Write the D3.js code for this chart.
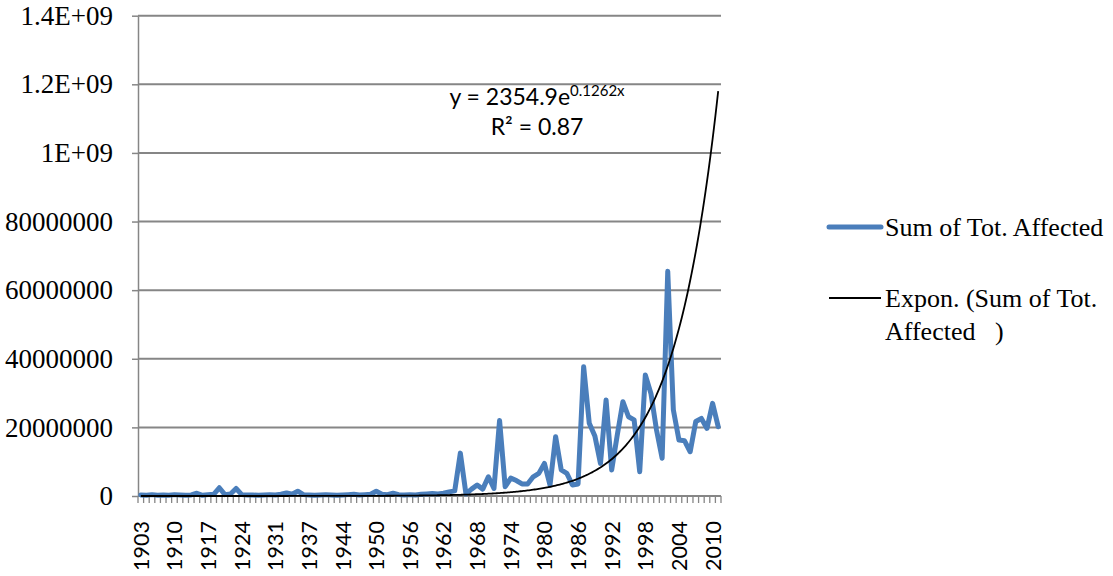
<!DOCTYPE html>
<html>
<head>
<meta charset="utf-8">
<script src="https://cdn.jsdelivr.net/npm/d3@7"></script>
<style>
  body { margin: 0; background: #fff; }
  svg { display: block; }
</style>
</head>
<body>
<div id="chart"></div>
<script>
// categories (years present in the pivot table, a few early years have no rows)
var years = [1903, 1904, 1905, 1907, 1908, 1909, 1910, 1911, 1912, 1914, 1915, 1916,
  1917, 1918, 1919, 1921, 1922, 1923, 1924, 1925, 1926, 1928, 1929, 1930,
  1931, 1932, 1933, 1934, 1935, 1936, 1937, 1938, 1939, 1941, 1942, 1943,
  1944, 1945, 1946, 1947, 1948, 1949, 1950, 1951, 1952, 1953, 1954, 1955,
  1956, 1957, 1958, 1959, 1960, 1961, 1962, 1963, 1964, 1965, 1966, 1967,
  1968, 1969, 1970, 1971, 1972, 1973, 1974, 1975, 1976, 1977, 1978, 1979,
  1980, 1981, 1982, 1983, 1984, 1985, 1986, 1987, 1988, 1989, 1990, 1991,
  1992, 1993, 1994, 1995, 1996, 1997, 1998, 1999, 2000, 2001, 2002, 2003,
  2004, 2005, 2006, 2007, 2008, 2009, 2010, 2011];

// Sum of Tot. Affected, in millions
var affected = [3, 2, 4, 2, 3, 2, 4, 3, 2, 3, 8, 2,
  4, 5, 24, 4, 6, 22, 4, 3, 3, 2, 3, 4,
  3, 5, 9, 5, 14, 4, 3, 2, 3, 4, 3, 2,
  3, 4, 5, 3, 4, 5, 14, 5, 4, 8, 4, 3,
  4, 3, 5, 6, 7, 6, 8, 12, 15, 125, 6, 20,
  32, 20, 56, 22, 220, 27, 52, 45, 35, 35, 56, 66,
  95, 32, 173, 76, 66, 32, 35, 377, 212, 175, 95, 280,
  76, 178, 275, 231, 222, 71, 353, 299, 192, 110, 655, 251,
  163, 161, 129, 217, 226, 197, 270, 202];

var yTicks = [0, 200e6, 400e6, 600e6, 800e6, 1000e6, 1200e6, 1400e6];
var yTickLabels = ["0", "20000000", "40000000", "60000000", "80000000", "1E+09", "1.2E+09", "1.4E+09"];

// exponential trendline as shown on the chart
var trendA = 2354.9;
var trendB = 0.1262;
var trendR2 = "0.87";

var W = 1113, H = 576;
var plotL = 138, plotR = 721, plotT = 15.7, plotB = 496;
var blue = "#4a7ebb";
var grid = "#868686";
var serif = "'Liberation Serif', 'Times New Roman', serif";
var sans = "Lato, 'Open Sans', sans-serif";

var svg = d3.select("#chart")
  .append("svg")
  .attr("width", W)
  .attr("height", H);

svg.append("rect").attr("width", W).attr("height", H).attr("fill", "#fff");

var x = d3.scaleBand().domain(years).range([plotL, plotR]).padding(0);
var mid = function(yr) { return x(yr) + x.bandwidth() / 2; };
var y = d3.scaleLinear().domain([0, 1400e6]).range([plotB, plotT]);

// gridlines
svg.append("g")
  .selectAll("line")
  .data(yTicks.slice(1))
  .enter()
  .append("line")
  .attr("x1", plotL)
  .attr("x2", plotR)
  .attr("y1", function(d) { return y(d); })
  .attr("y2", function(d) { return y(d); })
  .attr("stroke", grid)
  .attr("stroke-width", 2);

// y axis
var yAxis = svg.append("g")
  .attr("transform", "translate(" + plotL + ",0)")
  .call(d3.axisLeft(y)
    .tickValues(yTicks)
    .tickSize(6)
    .tickSizeOuter(0)
    .tickFormat(function(d, i) { return yTickLabels[i]; }));
yAxis.select(".domain").attr("stroke", grid).attr("stroke-width", 1.5);
yAxis.selectAll(".tick line").attr("stroke", grid).attr("stroke-width", 1.5);
yAxis.selectAll(".tick text")
  .attr("x", -25)
  .attr("font-family", serif)
  .attr("font-size", 27)
  .attr("fill", "#000");

// x axis: tick marks sit between categories
var tickPos = years.map(function(yr) { return x(yr); }).concat([plotR]);
svg.append("g")
  .selectAll("line")
  .data(tickPos)
  .enter()
  .append("line")
  .attr("x1", function(d) { return d; })
  .attr("x2", function(d) { return d; })
  .attr("y1", plotB)
  .attr("y2", plotB + 7)
  .attr("stroke", grid)
  .attr("stroke-width", 1.3);

svg.append("line")
  .attr("x1", plotL).attr("x2", plotR)
  .attr("y1", plotB).attr("y2", plotB)
  .attr("stroke", grid).attr("stroke-width", 2);

var labelYears = years.filter(function(yr, i) { return i % 6 == 0; });
svg.append("g")
  .selectAll("text")
  .data(labelYears)
  .enter()
  .append("text")
  .attr("transform", function(d) { return "translate(" + mid(d) + ",521) rotate(-90)"; })
  .attr("dy", "0.37em")
  .attr("text-anchor", "end")
  .attr("font-family", sans)
  .attr("font-size", 21.5)
  .attr("fill", "#000")
  .text(function(d) { return d; });

// data line
var line = d3.line()
  .x(function(d, i) { return mid(years[i]); })
  .y(function(d) { return y(d * 1e6); });

svg.append("path")
  .datum(affected)
  .attr("d", line)
  .attr("fill", "none")
  .attr("stroke", blue)
  .attr("stroke-width", 5)
  .attr("stroke-linejoin", "round")
  .attr("stroke-linecap", "round");

// trendline, x = 1..n in Excel's category numbering
var xi = d3.scaleLinear().domain([1, years.length]).range([mid(years[0]), mid(years[years.length - 1])]);
var trendPts = d3.range(1, years.length + 0.01, 0.25);
svg.append("path")
  .datum(trendPts)
  .attr("d", d3.line()
    .x(function(t) { return xi(t); })
    .y(function(t) { return y(trendA * Math.exp(trendB * t)); }))
  .attr("fill", "none")
  .attr("stroke", "#000")
  .attr("stroke-width", 1.8);

// equation label
var eq = svg.append("text")
  .attr("x", 537)
  .attr("y", 105)
  .attr("text-anchor", "middle")
  .attr("font-family", sans)
  .attr("font-size", 23)
  .attr("fill", "#000");
eq.append("tspan").text("y = " + trendA + "e");
eq.append("tspan").attr("dy", -9).attr("font-size", 15).text(trendB + "x");

svg.append("text")
  .attr("x", 537)
  .attr("y", 135)
  .attr("text-anchor", "middle")
  .attr("font-family", sans)
  .attr("font-size", 23)
  .attr("fill", "#000")
  .text("R\u00b2 = " + trendR2);

// legend
var leg = svg.append("g");
leg.append("line")
  .attr("x1", 829).attr("x2", 881)
  .attr("y1", 227).attr("y2", 227)
  .attr("stroke", blue).attr("stroke-width", 5)
  .attr("stroke-linecap", "round");
leg.append("text")
  .attr("x", 885).attr("y", 227).attr("dy", "0.35em")
  .attr("font-family", serif).attr("font-size", 26)
  .text("Sum of Tot. Affected");

leg.append("line")
  .attr("x1", 829).attr("x2", 881)
  .attr("y1", 298).attr("y2", 298)
  .attr("stroke", "#000").attr("stroke-width", 1.8);
leg.append("text")
  .attr("x", 885).attr("y", 298).attr("dy", "0.35em")
  .attr("font-family", serif).attr("font-size", 26)
  .text("Expon. (Sum of Tot.");
leg.append("text")
  .attr("x", 885).attr("y", 331).attr("dy", "0.35em")
  .attr("font-family", serif).attr("font-size", 26)
  .style("white-space", "pre")
  .text("Affected   )");
</script>
</body>
</html>
